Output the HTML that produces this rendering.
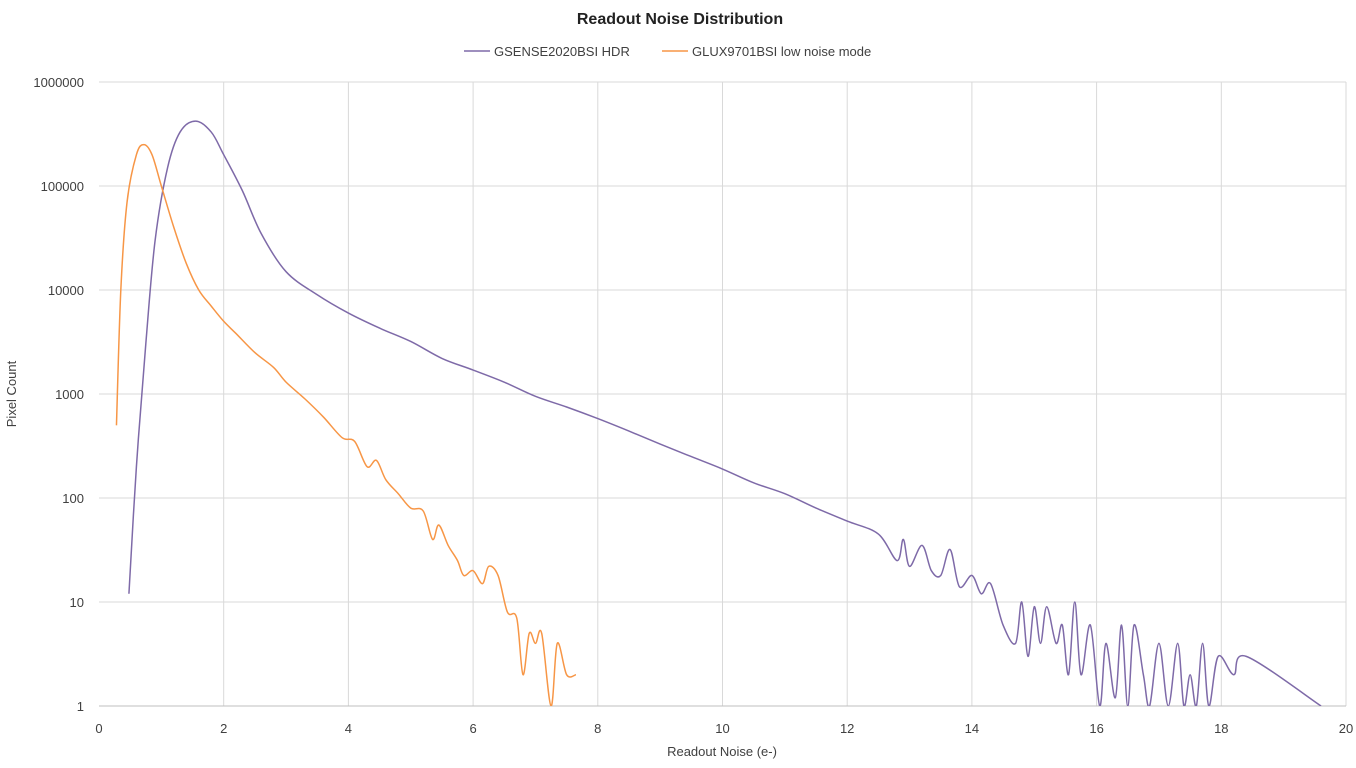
<!DOCTYPE html>
<html><head><meta charset="utf-8"><style>
body{margin:0;background:#fff;font-family:"Liberation Sans",sans-serif}
svg text{font-family:"Liberation Sans",sans-serif;fill:#404040}
</style></head><body>
<svg id="chart" width="1356" height="763">
<defs><clipPath id="pc"><rect x="99" y="82" width="1248" height="624"/></clipPath></defs>
<text x="680" y="24" text-anchor="middle" font-size="16" font-weight="bold" style="fill:#222">Readout Noise Distribution</text>
<g>
<line x1="464" y1="51" x2="490" y2="51" stroke="#7e6aa8" stroke-width="1.5"/>
<text x="494" y="56" font-size="13">GSENSE2020BSI HDR</text>
<line x1="662" y1="51" x2="688" y2="51" stroke="#f79646" stroke-width="1.5"/>
<text x="692" y="56" font-size="13">GLUX9701BSI low noise mode</text>
</g>
<g id="grid"></g>
<g id="axes"></g>
<g id="series" clip-path="url(#pc)"></g>
<text x="722" y="756" text-anchor="middle" font-size="13">Readout Noise (e-)</text>
<text transform="translate(16,394) rotate(-90)" text-anchor="middle" font-size="13">Pixel Count</text>
</svg>
<script>
const xTicks=[0,2,4,6,8,10,12,14,16,18,20];
const yTicks=[1,10,100,1000,10000,100000,1000000];
const gsenseX=[0.48,0.6,0.75,0.9,1.1,1.3,1.55,1.8,2.0,2.3,2.6,3.0,3.5,4.0,4.5,5.0,5.5,6.0,6.5,7.0,7.5,8.0,8.5,9.0,9.5,10.0,10.5,11.0,11.5,12.0,12.5,12.8,12.9,13.0,13.2,13.35,13.5,13.65,13.8,14.0,14.15,14.3,14.5,14.7,14.8,14.9,15.0,15.1,15.2,15.35,15.45,15.55,15.65,15.75,15.9,16.05,16.15,16.3,16.4,16.5,16.6,16.75,16.85,17.0,17.15,17.3,17.4,17.5,17.6,17.7,17.8,17.95,18.2,18.4,19.6];
const gsenseY=[12,200,3000,30000,150000,330000,420000,330000,200000,90000,35000,15000,9000,6000,4300,3200,2200,1700,1300,950,750,580,440,330,250,190,140,110,80,60,45,25,40,22,35,20,18,32,14,18,12,15,6,4,10,3,9,4,9,4,6,2,10,2,6,1,4,1.2,6,1,6,2,1,4,1,4,1,2,1,4,1,3,2,3,1];
const gluxX=[0.28,0.35,0.45,0.6,0.72,0.85,1.0,1.2,1.4,1.6,1.8,2.0,2.2,2.5,2.8,3.0,3.3,3.6,3.9,4.1,4.3,4.45,4.6,4.8,5.0,5.2,5.35,5.45,5.6,5.75,5.85,6.0,6.15,6.25,6.4,6.55,6.7,6.8,6.9,7.0,7.1,7.25,7.35,7.5,7.65];
const gluxY=[500,10000,70000,200000,250000,200000,100000,40000,18000,10000,7000,5000,3800,2500,1800,1300,900,600,380,350,200,230,150,110,80,75,40,55,35,25,18,20,15,22,18,8,7,2,5,4,5,1,4,2,2];
const X=v=>99+v*(1247/20), Y=v=>706-104*Math.log10(v);
const NS='http://www.w3.org/2000/svg';
const grid=document.getElementById('grid'),axes=document.getElementById('axes'),ser=document.getElementById('series');
function mk(t,a,p){const e=document.createElementNS(NS,t);for(const k in a)e.setAttribute(k,a[k]);p.appendChild(e);return e;}
xTicks.forEach(t=>{
 if(t>0){const l=mk('line',{x1:X(t),x2:X(t),y1:82,y2:706,stroke:'#d9d9d9'},grid);
 
 }
 const tx=mk('text',{x:X(t),y:733,'text-anchor':'middle','font-size':13},axes);tx.textContent=t;
 
 
});
yTicks.forEach(t=>{
 const l=mk('line',{x1:99,x2:1346,y1:Y(t),y2:Y(t),stroke:t===1?'#bfbfbf':'#d9d9d9'},grid);
 
 
 const tx=mk('text',{x:84,y:Y(t)+5,'text-anchor':'end','font-size':13},axes);tx.textContent=t;
 
 
});
function path(xs,ys){
 const p=xs.map((x,i)=>[X(x),Y(ys[i])]);
 let d='M'+p[0][0]+','+p[0][1];
 for(let i=0;i<p.length-1;i++){
  const p0=p[i-1]||p[i],p1=p[i],p2=p[i+1],p3=p[i+2]||p2;
  const c1=[p1[0]+(p2[0]-p0[0])/6,p1[1]+(p2[1]-p0[1])/6],c2=[p2[0]-(p3[0]-p1[0])/6,p2[1]-(p3[1]-p1[1])/6];
  d+=`C${c1[0]},${c1[1]} ${c2[0]},${c2[1]} ${p2[0]},${p2[1]}`;
 }
 return d;
}
const a=mk('path',{d:path(gsenseX,gsenseY),fill:'none',stroke:'#7e6aa8','stroke-width':1.5},ser);


const b=mk('path',{d:path(gluxX,gluxY),fill:'none',stroke:'#f79646','stroke-width':1.5},ser);


</script>
</body></html>
